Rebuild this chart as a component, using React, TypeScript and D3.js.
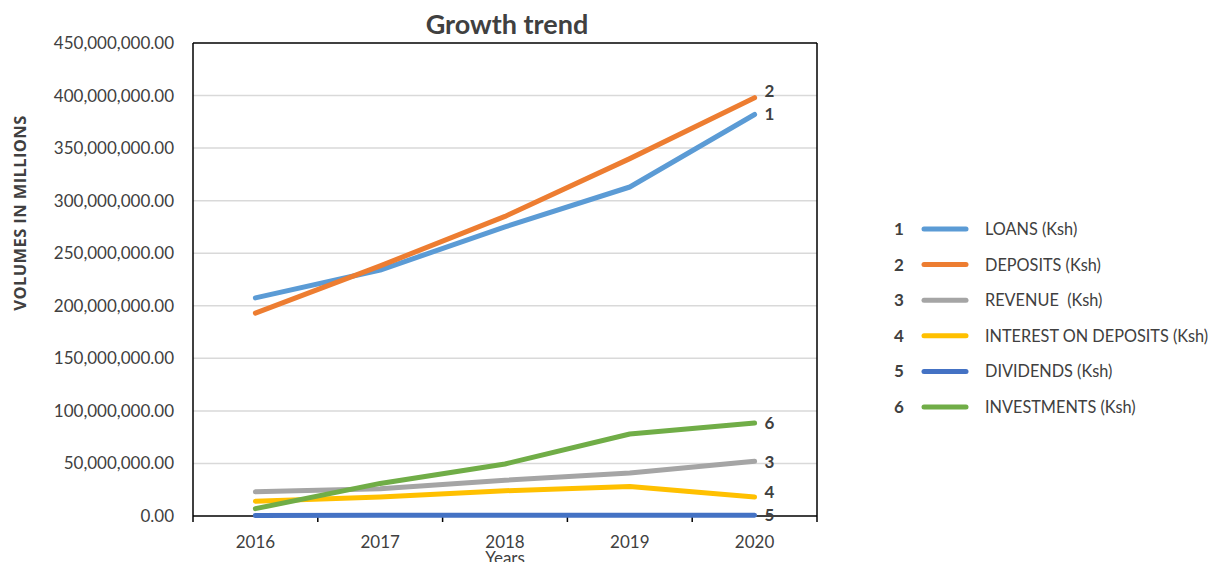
import React from "react";
import * as d3 from "d3";

const years = ["2016", "2017", "2018", "2019", "2020"];
const loans = [207.5e6, 234e6, 275e6, 313e6, 382e6];
const deposits = [193e6, 238e6, 285e6, 340e6, 398e6];
const revenue = [23e6, 26e6, 34e6, 41e6, 52e6];
const interest = [14e6, 18e6, 24e6, 28e6, 18e6];
const dividends = [0.5e6, 0.6e6, 0.7e6, 0.8e6, 0.6e6];
const investments = [7e6, 31e6, 49.5e6, 78e6, 88.5e6];
const seriesNames = [
  "LOANS (Ksh)",
  "DEPOSITS (Ksh)",
  "REVENUE  (Ksh)",
  "INTEREST ON DEPOSITS (Ksh)",
  "DIVIDENDS (Ksh)",
  "INVESTMENTS (Ksh)",
];
const seriesColors = ["#5B9BD5", "#ED7D31", "#A5A5A5", "#FFC000", "#4472C4", "#70AD47"];
const yTicks = [0, 50e6, 100e6, 150e6, 200e6, 250e6, 300e6, 350e6, 400e6, 450e6];
const labelNudge = [0, -7, 1, -5, 0, 0];

const FONT = "Lato, 'Open Sans', sans-serif";

export default function App() {
  const W = 1221, H = 562;
  const left = 193, right = 817, top = 43, bottom = 516;
  const x = d3.scaleBand<string>().domain(years).range([left, right]);
  const y = d3.scaleLinear().domain([0, 450e6]).range([bottom, top]);
  const series = [loans, deposits, revenue, interest, dividends, investments];
  const line = d3
    .line<number>()
    .x((_, i) => (x(years[i]) as number) + x.bandwidth() / 2)
    .y((d) => y(d));
  const fmt = d3.format(",.2f");
  const bounds = [...years.map((yr) => x(yr) as number), right];
  const lastX = (x(years[years.length - 1]) as number) + x.bandwidth() / 2;
  const order = [0, 1, 2, 3, 5, 4];

  return (
    <svg width={W} height={H} style={{ position: "absolute", left: 0, top: 0, background: "#fff" }}>
      <rect x={0} y={0} width={W} height={H} fill="#fff" />
      <text x={507} y={34} textAnchor="middle" fontFamily={FONT} fontWeight="bold" fontSize={27} fill="#404040">
        Growth trend
      </text>
      {yTicks.map((t) => (
        <g key={t}>
          {t > 0 && t < 450e6 && (
            <line x1={left} x2={right} y1={y(t)} y2={y(t)} stroke="#d9d9d9" strokeWidth={1.5} />
          )}
          <text x={174} y={y(t) + 6} textAnchor="end" fontFamily={FONT} fontSize={17} fill="#404040">
            {fmt(t)}
          </text>
        </g>
      ))}
      <text
        transform={`translate(26,213) rotate(-90)`}
        textAnchor="middle"
        fontFamily="'Open Sans', Lato, sans-serif"
        fontWeight="bold"
        fontSize={16.5}
        letterSpacing={0.4}
        fill="#404040"
      >
        VOLUMES IN MILLIONS
      </text>
      <line x1={left} x2={right} y1={top} y2={top} stroke="#000" strokeWidth={1.5} />
      <line x1={left} x2={left} y1={top} y2={bottom} stroke="#000" strokeWidth={1.5} />
      <line x1={right} x2={right} y1={top} y2={bottom} stroke="#000" strokeWidth={1.5} />
      {bounds.map((b, i) => (
        <line key={i} x1={b} x2={b} y1={bottom} y2={bottom + 6} stroke="#000" strokeWidth={1.5} />
      ))}
      {years.map((yr) => (
        <text
          key={yr}
          x={(x(yr) as number) + x.bandwidth() / 2}
          y={548}
          textAnchor="middle"
          fontFamily={FONT}
          fontSize={17}
          fill="#404040"
        >
          {yr}
        </text>
      ))}
      <text x={505} y={564} textAnchor="middle" fontFamily={FONT} fontSize={17} fill="#404040">
        Years
      </text>
      {order.map((si) => (
        <g key={si}>
          {si === 4 && <line x1={left} x2={right} y1={bottom} y2={bottom} stroke="#000" strokeWidth={1.5} />}
          <path
            d={line(series[si]) as string}
            fill="none"
            stroke={seriesColors[si]}
            strokeWidth={5}
            strokeLinecap="round"
            strokeLinejoin="round"
          />
        </g>
      ))}
      {series.map((s, si) => (
        <text
          key={si}
          x={lastX + 10}
          y={y(s[s.length - 1]) + labelNudge[si] + 6}
          fontFamily={FONT}
          fontWeight="bold"
          fontSize={17}
          fill="#404040"
        >
          {si + 1}
        </text>
      ))}
      {seriesNames.map((n, i) => {
        const ly = 229 + i * 35.6;
        return (
          <g key={n}>
            <text x={899} y={ly + 6} textAnchor="middle" fontFamily={FONT} fontWeight="bold" fontSize={17} fill="#404040">
              {i + 1}
            </text>
            <line x1={924} x2={966} y1={ly} y2={ly} stroke={seriesColors[i]} strokeWidth={5} strokeLinecap="round" />
            <text x={985} y={ly + 6} fontFamily={FONT} fontSize={16.3} fill="#404040" style={{ whiteSpace: "pre" }}>
              {n}
            </text>
          </g>
        );
      })}
    </svg>
  );
}
